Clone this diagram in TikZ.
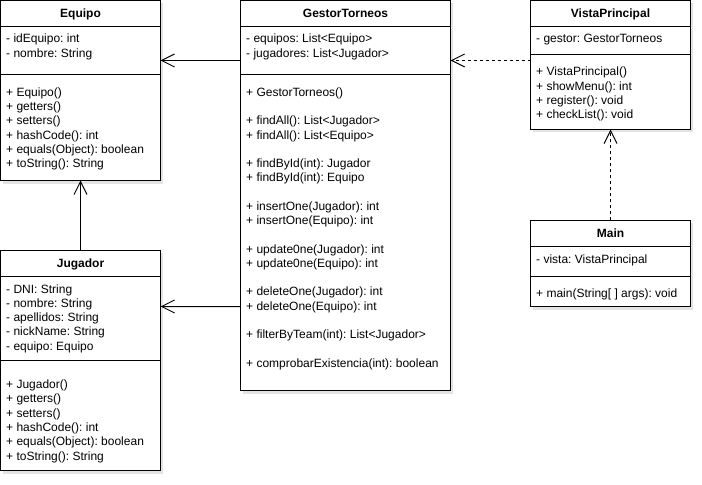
\documentclass[tikz,border=0pt]{standalone}
\usepackage{fontspec}
\setmainfont{Liberation Sans}
\frenchspacing
\usetikzlibrary{arrows.meta,shadows}
\begin{document}
\begin{tikzpicture}[x=1bp,y=-1bp,
  box/.style={draw=black,line width=1bp,fill=white,inner sep=0pt,outer sep=0pt,anchor=north west,
    drop shadow={opacity=0.22,shadow xshift=2bp,shadow yshift=-3bp}},
  sep/.style={draw=black,line width=1bp},
  txt/.style={anchor=base west,inner sep=0pt,font=\fontsize{12bp}{14.3bp}\selectfont},
  ttl/.style={anchor=base,inner sep=0pt,font=\fontsize{12bp}{14.3bp}\selectfont\bfseries},
  assoc/.style={draw=black,line width=1bp,-{Straight Barb[length=13bp,width=13bp]}},
  dep/.style={assoc,dash pattern=on 3bp off 3bp}]
\useasboundingbox (0,0) rectangle (702,485);

% ---------- boxes ----------
\node[box,minimum width=160bp,minimum height=180bp] (equipo) at (0.5,0.5) {};
\node[box,minimum width=160bp,minimum height=220bp] (jugador) at (0.5,250.5) {};
\node[box,minimum width=210bp,minimum height=390bp] (gestor) at (240.5,0.5) {};
\node[box,minimum width=160bp,minimum height=129bp] (vista) at (530.5,0.5) {};
\node[box,minimum width=160bp,minimum height=86bp] (main) at (530.5,220.5) {};

% ---------- separators ----------
\foreach \n/\a/\b in {equipo/26/74,jugador/26/110,gestor/26/74,vista/26/54,main/26/56}{
  \draw[sep] ([yshift=-\a bp]\n.north west) -- ([yshift=-\a bp]\n.north east);
  \draw[sep] ([yshift=-\b bp]\n.north west) -- ([yshift=-\b bp]\n.north east);
}

% ---------- titles ----------
\node[ttl] (equipoT) at (80.5,17.3) {Equipo};
\node[ttl] (jugadorT) at (80.5,267.6) {Jugador};
\node[ttl] (gestorT) at (345.5,17.3) {GestorTorneos};
\node[ttl] (vistaT) at (610.5,17.3) {VistaPrincipal};
\node[ttl] (mainT) at (610.5,238) {Main};

% ---------- Equipo ----------
\foreach \t [count=\i from 0] in {{- idEquipo: int},{- nombre: String}}
  \node[txt] (equipoA\i) at (6,43+14.3*\i) {\t};
\foreach \t [count=\i from 0] in {{+ Equipo()},{+ getters()},{+ setters()},{+ hashCode(): int},{+ equals(Object): boolean},{+ toString(): String}}
  \node[txt] (equipoM\i) at (6,96.3+14.3*\i) {\t};

% ---------- Jugador ----------
\foreach \t [count=\i from 0] in {{- DNI: String},{- nombre: String},{- apellidos: String},{- nickName: String},{- equipo: Equipo}}
  \node[txt] (jugadorA\i) at (6,293+14.3*\i) {\t};
\foreach \t [count=\i from 0] in {{+ Jugador()},{+ getters()},{+ setters()},{+ hashCode(): int},{+ equals(Object): boolean},{+ toString(): String}}
  \node[txt] (jugadorM\i) at (6,388.5+14.3*\i) {\t};

% ---------- GestorTorneos ----------
\foreach \t [count=\i from 0] in {{- equipos: List<Equipo>},{- jugadores: List<Jugador>}}
  \node[txt] (gestorA\i) at (246,43+14.3*\i) {\t};
\foreach \t/\k in {{+ GestorTorneos()}/0,{+ findAll(): List<Jugador>}/2,{+ findAll(): List<Equipo>}/3,
  {+ findById(int): Jugador}/5,{+ findById(int): Equipo}/6,
  {+ insertOne(Jugador): int}/8,{+ insertOne(Equipo): int}/9,
  {+ update0ne(Jugador): int}/11,{+ update0ne(Equipo): int}/12,
  {+ deleteOne(Jugador): int}/14,{+ deleteOne(Equipo): int}/15,
  {+ filterByTeam(int): List<Jugador>}/17,{+ comprobarExistencia(int): boolean}/19}
  \node[txt] (gestorM\k) at (246,96.3+14.25*\k) {\t};

% ---------- VistaPrincipal ----------
\node[txt] (vistaA0) at (536,43) {- gestor: GestorTorneos};
\foreach \t [count=\i from 0] in {{+ VistaPrincipal()},{+ showMenu(): int},{+ register(): void},{+ checkList(): void}}
  \node[txt] (vistaM\i) at (536,76+14.3*\i) {\t};

% ---------- Main ----------
\node[txt] (mainA0) at (536,263.5) {- vista: VistaPrincipal};
\node[txt] (mainM0) at (536,297.5) {+ main(String[ ] args): void};

% ---------- connectors ----------
\draw[assoc] ([yshift=-60bp]gestor.north west) -- ([yshift=-60bp]equipo.north east);
\draw[assoc] ([yshift=-306bp]gestor.north west) -- ([yshift=-56bp]jugador.north east);
\draw[assoc] (jugador.north) -- (equipo.south);
\draw[dep] ([yshift=-60bp]vista.north west) -- ([yshift=-60bp]gestor.north east);
\draw[dep] (main.north) -- (vista.south);
\end{tikzpicture}
\end{document}
